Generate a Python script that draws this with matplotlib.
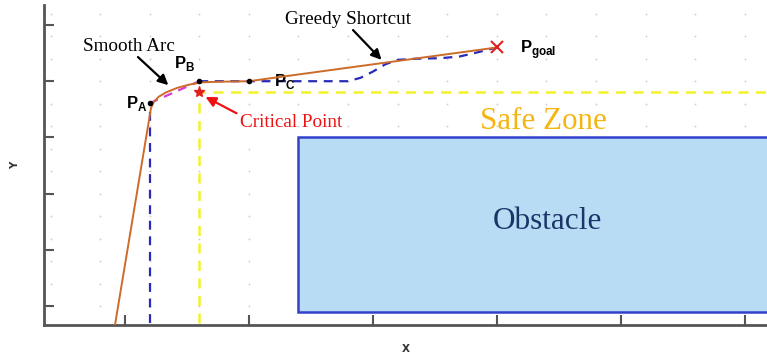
import numpy as np
import matplotlib
matplotlib.use("Agg")
import matplotlib.pyplot as plt
from matplotlib.patches import Rectangle

plt.rcParams["mathtext.fontset"] = "custom"
plt.rcParams["mathtext.bf"] = "Liberation Sans:bold"
plt.rcParams["mathtext.rm"] = "Liberation Sans"

# Key waypoints
P_A = (1.20, 4.61)
P_B = (1.60, 5.00)
P_C = (2.00, 5.00)
P_goal = (4.00, 5.60)
critical = (1.60, 4.80)

# Smoothed (orange) trajectory
smooth_x = [0.90, 1.21, 1.23, 1.27, 1.33, 1.42, 1.52, 1.62, 1.75, 2.00, 4.00]
smooth_y = [0.40, 4.52, 4.62, 4.72, 4.80, 4.88, 4.94, 4.98, 4.99, 5.00, 5.60]

# Raw planner path (blue dashed)
raw_x1 = [1.20, 1.20]
raw_y1 = [0.70, 4.61]
raw_x2 = [1.60, 2.00, 2.80, 2.90, 3.00, 3.10, 3.20, 3.35, 3.55, 3.70, 3.82, 4.00]
raw_y2 = [5.00, 5.00, 5.00, 5.06, 5.17, 5.30, 5.38, 5.40, 5.41, 5.44, 5.50, 5.60]

# Obstacle rectangle and safe-zone boundary
obs_x0, obs_y0, obs_x1, obs_y1 = 2.40, 0.90, 6.40, 4.00
safe_x = [1.60, 1.60, 6.40]
safe_y = [0.70, 4.80, 4.80]

fig = plt.figure(figsize=(7.67, 3.58), dpi=100)
ax = fig.add_axes([44 / 767, 33 / 358, 723 / 767, 320 / 358])
ax.set_xlim(0.347, 6.18)
ax.set_ylim(0.662, 6.356)

# faint dotted background grid
gx, gy = np.meshgrid(np.arange(0.4, 6.2, 0.4), np.arange(1.0, 6.3, 0.4))
ax.scatter(gx.ravel(), gy.ravel(), s=1.8, color="#cfcfcf", zorder=0, linewidths=0)

ax.add_patch(Rectangle((obs_x0, obs_y0), obs_x1 - obs_x0, obs_y1 - obs_y0,
                       facecolor="#b9dcf5", edgecolor="#3340cc", lw=1.8, zorder=1))
ax.plot(safe_x, safe_y, color="#f2f22a", lw=1.8, ls=(0, (4, 3)), zorder=2)

ax.plot(raw_x1, raw_y1, color="#2a2ab8", lw=1.6, ls=(0, (4, 3)), zorder=3)
ax.plot(raw_x2, raw_y2, color="#2a2ab8", lw=1.6, ls=(0, (4, 3)), zorder=3)
ax.plot([P_A[0], P_B[0]], [P_A[1], P_B[1]], color="#d83ad8", lw=1.6,
        ls=(0, (4, 3)), zorder=3)
ax.plot(smooth_x, smooth_y, color="#cd6b2a", lw=1.4, zorder=4)

ax.plot([P_A[0], P_B[0], P_C[0]], [P_A[1], P_B[1], P_C[1]], "o",
        color="black", ms=3, zorder=5)
ax.plot(*P_goal, marker="x", color="#e02020", ms=9, mew=1.5, zorder=5)
ax.plot(*critical, marker="*", color="#e02020", ms=8, zorder=5)

lab = dict(fontsize=12, color="black")
ax.text(1.18, 4.61, r"$\mathbf{P}_\mathbf{A}$", ha="right", va="center", **lab)
ax.text(1.57, 5.31, r"$\mathbf{P}_\mathbf{B}$", ha="right", va="center", **lab)
ax.text(2.20, 4.99, r"$\mathbf{P}_\mathbf{C}$", ha="left", va="center", **lab)
ax.text(4.19, 5.56, r"$\mathbf{P}_\mathbf{goal}$", ha="left", va="center", **lab)

serif = "Liberation Serif"


def arrow(tail, head, color):
    ax.annotate("", xy=head, xytext=tail,
                arrowprops=dict(arrowstyle="-|>", color=color, lw=1.6,
                                mutation_scale=15, shrinkA=0, shrinkB=0))


ax.text(1.03, 5.61, "Smooth Arc", ha="center", va="center", fontsize=13.8,
        family=serif)
arrow((1.105, 5.43), (1.35, 4.93), "black")
ax.text(2.80, 6.09, "Greedy Shortcut", ha="center", va="center", fontsize=13.8,
        family=serif)
arrow((2.84, 5.91), (3.07, 5.38), "black")
ax.text(1.925, 4.27, "Critical Point", ha="left", va="center", fontsize=13.8,
        family=serif, color="#ee1111")
arrow((1.90, 4.43), (1.65, 4.72), "#ee1111")

ax.text(4.38, 4.29, "Safe Zone", ha="center", va="center", fontsize=22.3,
        family=serif, color="#f5b510")
ax.text(4.41, 2.50, "Obstacle", ha="center", va="center", fontsize=22.5,
        family=serif, color="#1c3568")

for side in ("top", "right"):
    ax.spines[side].set_visible(False)
for side in ("left", "bottom"):
    ax.spines[side].set_color("#555555")
    ax.spines[side].set_linewidth(2)
ax.set_xticks([1, 2, 3, 4, 5, 6])
ax.set_yticks([1, 2, 3, 4, 5, 6])
ax.tick_params(direction="in", length=7, width=1.5, color="#555555",
               labelbottom=False, labelleft=False)
ax.set_xlabel("X", fontsize=7.5, color="#333333", fontweight="bold", labelpad=14)
ax.set_ylabel("Y", fontsize=7.5, color="#333333", fontweight="bold", labelpad=17)

fig.savefig("out.png", dpi=100)
